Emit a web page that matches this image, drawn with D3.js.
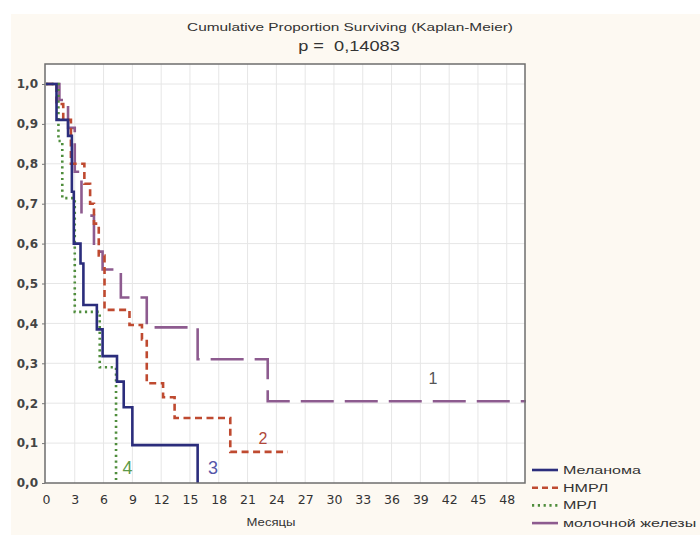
<!DOCTYPE html>
<html>
<head>
<meta charset="utf-8">
<script src="https://cdnjs.cloudflare.com/ajax/libs/d3/7.8.5/d3.min.js"></script>
<style>
  body { margin: 0; background: #fff; }
  svg { font-family: "Liberation Sans", Arial, sans-serif; }
</style>
</head>
<body>
<div id="chart"></div>
<script>
// Kaplan-Meier steps, values (month, proportion after step)
const melanomaT = [0, 1.1, 2.3, 2.7, 2.9, 3.6, 3.9, 5.3, 5.9, 7.4, 8.1, 9.0, 15.8];
const melanomaS = [1, 0.91, 0.87, 0.73, 0.60, 0.55, 0.446, 0.385, 0.318, 0.254, 0.19, 0.095, 0];
const melanomaEnd = 15.8;

const nmrlT = [0, 1.1, 1.8, 2.6, 4.0, 4.6, 5.0, 5.5, 6.1, 8.7, 10.0, 10.5, 12.2, 13.4, 19.2];
const nmrlS = [1, 0.95, 0.91, 0.80, 0.75, 0.70, 0.65, 0.57, 0.434, 0.396, 0.36, 0.25, 0.215, 0.163, 0.078];
const nmrlEnd = 25.2;

const mrlT = [0, 1.3, 1.7, 3.0, 5.6, 7.3];
const mrlS = [1, 0.857, 0.714, 0.429, 0.29, 0];
const mrlEnd = 7.3;

const breastT = [0, 1.4, 2.3, 3.0, 3.7, 5.0, 5.9, 7.8, 10.5, 15.8, 23.1];
const breastS = [1, 0.96, 0.89, 0.78, 0.67, 0.58, 0.535, 0.465, 0.39, 0.31, 0.205];
const breastEnd = 50;

const seriesNames = ["Меланома", "НМРЛ", "МРЛ", "молочной железы"];
const xTicks = d3.range(0, 49, 3);
const yTicks = d3.range(0, 11).map(d => d / 10);

const width = 700, height = 535;
const svg = d3.select("#chart").append("svg")
  .attr("width", width).attr("height", height);

// cream backdrop
svg.append("rect").attr("x", 11).attr("y", 14)
  .attr("width", width - 11).attr("height", height - 14)
  .attr("fill", "#fdf9f2");

const pLeft = 45, pRight = 525, pTop = 64, pBottom = 483;
const x = d3.scaleLinear().domain([-0.1, 49.9]).range([pLeft, pRight]);
const y = d3.scaleLinear().domain([0, 1.05]).range([pBottom, pBottom - 1.05 * 399]);

svg.append("rect").attr("x", pLeft).attr("y", pTop)
  .attr("width", pRight - pLeft).attr("height", pBottom - pTop)
  .attr("fill", "#fff");

// grid
svg.append("g").selectAll("line").data(xTicks.filter(d => d > 0))
  .enter().append("line")
  .attr("x1", d => x(d)).attr("x2", d => x(d))
  .attr("y1", pTop).attr("y2", pBottom)
  .attr("stroke", "#e6e6e6").attr("stroke-width", 1);
svg.append("g").selectAll("line").data(yTicks.filter(d => d > 0))
  .enter().append("line")
  .attr("x1", pLeft).attr("x2", pRight)
  .attr("y1", d => y(d)).attr("y2", d => y(d))
  .attr("stroke", "#e6e6e6").attr("stroke-width", 1);

// stretched text helper (the source image is wider than tall)
function wideText(parent, tx, ty, sx, str, size, anchor) {
  return parent.append("text")
    .attr("transform", `translate(${tx},${ty}) scale(${sx},1)`)
    .attr("text-anchor", anchor || "start")
    .attr("font-size", size)
    .attr("fill", "#333")
    .style("white-space", "pre")
    .text(str);
}

// titles
wideText(svg, 350, 31, 1.4, "Cumulative Proportion Surviving (Kaplan-Meier)", 11, "middle");
wideText(svg, 349, 51, 1.3, "p =  0,14083", 14, "middle");

// curves
function steps(T, S, end) {
  const pts = [];
  for (let i = 0; i < T.length; i++) {
    if (i > 0) pts.push([T[i], S[i - 1]]);
    pts.push([T[i], S[i]]);
  }
  pts.push([end, S[S.length - 1]]);
  return pts;
}
const line = d3.line().x(d => x(d[0])).y(d => y(d[1]));

const series = [
  { name: seriesNames[3], pts: steps(breastT, breastS, breastEnd), color: "#8d5b8f", w: 2.6, dash: "33,11", legDash: null },
  { name: seriesNames[1], pts: steps(nmrlT, nmrlS, nmrlEnd), color: "#bf4a30", w: 2.6, dash: "7,4.5", legDash: "6,4" },
  { name: seriesNames[2], pts: steps(mrlT, mrlS, mrlEnd), color: "#4f8d3c", w: 2.6, dash: "2.2,3.6", legDash: "2.2,3.6" },
  { name: seriesNames[0], pts: steps(melanomaT, melanomaS, melanomaEnd), color: "#2b2d7c", w: 2.6, dash: null, legDash: null }
];

svg.append("g").selectAll("path").data(series).enter().append("path")
  .attr("d", d => line(d.pts))
  .attr("fill", "none")
  .attr("stroke", d => d.color)
  .attr("stroke-width", d => d.w)
  .attr("stroke-dasharray", d => d.dash);

// frame
svg.append("rect").attr("x", pLeft).attr("y", pTop)
  .attr("width", pRight - pLeft).attr("height", pBottom - pTop)
  .attr("fill", "none").attr("stroke", "#6e6e6e").attr("stroke-width", 1.5);

// axes
const fmt = d => d3.format(".1f")(d).replace(".", ",");
const gx = svg.append("g").attr("transform", `translate(0,${pBottom})`)
  .call(d3.axisBottom(x).tickValues(xTicks).tickSize(0).tickPadding(12));
const gy = svg.append("g").attr("transform", `translate(${pLeft},0)`)
  .call(d3.axisLeft(y).tickValues(yTicks).tickFormat(fmt).tickSize(3).tickPadding(4));
[gx, gy].forEach(g => {
  g.select(".domain").remove();
  g.selectAll("text").attr("fill", "#333")
    .attr("font-family", "'DejaVu Sans', sans-serif");
  g.selectAll("line").attr("stroke", "#777");
});
gx.selectAll("text").attr("font-size", 12.5);
gy.selectAll("text").attr("font-size", 12).attr("font-weight", "bold").attr("fill", "#444");

wideText(svg, 271, 526, 1.25, "Месяцы", 10.5, "middle");

// curve numbers
const numLabels = [
  { t: "1", mx: 40.3, v: 0.205, dy: -17, c: "#555", fs: 16 },
  { t: "2", mx: 22.6, v: 0.078, dy: -8, c: "#b0483a", fs: 16 },
  { t: "3", mx: 17.4, v: 0.0, dy: -9, c: "#5656a8", fs: 18 },
  { t: "4", mx: 8.5, v: 0.0, dy: -9, c: "#5c9a4a", fs: 18 }
];
svg.append("g").selectAll("text").data(numLabels).enter().append("text")
  .attr("x", d => x(d.mx)).attr("y", d => y(d.v) + d.dy)
  .attr("text-anchor", "middle")
  .attr("font-size", d => d.fs).attr("fill", d => d.c)
  .text(d => d.t);

// legend
const legendOrder = [series[3], series[1], series[2], series[0]];
const lg = svg.append("g").attr("transform", "translate(532,470)");
legendOrder.forEach((s, i) => {
  const row = lg.append("g").attr("transform", `translate(0,${i * 17.7})`);
  row.append("line").attr("x1", 0).attr("x2", 26).attr("y1", 0).attr("y2", 0)
    .attr("stroke", s.color).attr("stroke-width", 2.6)
    .attr("stroke-dasharray", s.legDash);
  wideText(row, 31, 4, 1.46, s.name, 11);
});
</script>
</body>
</html>
